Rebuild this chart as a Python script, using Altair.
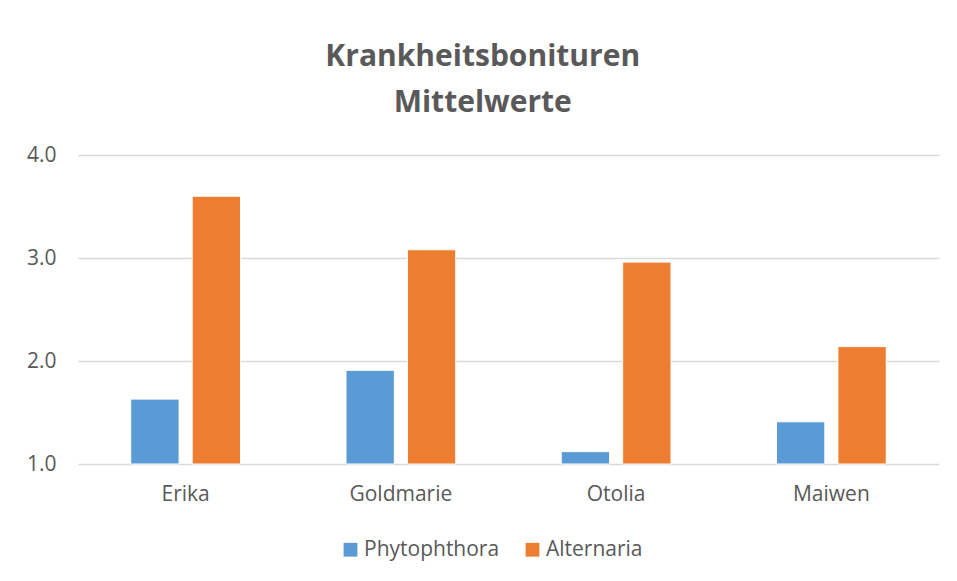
import altair as alt
import pandas as pd

categories = ["Erika", "Goldmarie", "Otolia", "Maiwen"]
series = ["Phytophthora", "Alternaria"]
phytophthora = [1.63, 1.91, 1.12, 1.41]
alternaria = [3.60, 3.08, 2.96, 2.14]
y_ticks = [1.0, 2.0, 3.0, 4.0]

rows = []
for i, c in enumerate(categories):
    rows.append({"Sorte": c, "Krankheit": series[0], "Wert": phytophthora[i], "Basis": 1.0})
    rows.append({"Sorte": c, "Krankheit": series[1], "Wert": alternaria[i], "Basis": 1.0})
df = pd.DataFrame(rows)

FONT = "Open Sans"
TXT = "#595959"

chart = alt.Chart(df).mark_bar(stroke="white", strokeWidth=1).encode(
    x=alt.X("Sorte:N", sort=categories, title=None,
            scale=alt.Scale(paddingInner=0.49, paddingOuter=0.245),
            axis=alt.Axis(labelAngle=0, ticks=False, domain=False, labelPadding=19,
                          labelFontSize=21, labelColor=TXT, labelFont=FONT)),
    xOffset=alt.XOffset("Krankheit:N", sort=series,
                        scale=alt.Scale(paddingInner=0.213)),
    y=alt.Y("Wert:Q", title=None,
            scale=alt.Scale(domain=[1, 4], zero=False, nice=False),
            axis=alt.Axis(values=y_ticks, format=".1f", ticks=False, domain=False,
                          labelPadding=22, labelFontSize=21, labelColor=TXT, labelFont=FONT,
                          gridColor="#d9d9d9", gridWidth=1.5)),
    y2="Basis:Q",
    color=alt.Color("Krankheit:N", sort=series,
                    scale=alt.Scale(domain=series, range=["#5B9BD5", "#ED7D31"]),
                    legend=alt.Legend(orient="none", legendX=262, legendY=384,
                                      direction="horizontal", title=None,
                                      symbolType="square", symbolSize=190, symbolStrokeWidth=0,
                                      labelFontSize=21, labelColor=TXT, labelFont=FONT,
                                      labelOffset=3, columnPadding=22, symbolOffset=0)),
).properties(
    width=861,
    height=309,
    background="white",
    title=alt.TitleParams(["Krankheitsbonituren", "Mittelwerte"], fontSize=30,
                          font=FONT, fontWeight="bold", color=TXT, lineHeight=46,
                          anchor="middle", frame="bounds", offset=26),
    padding={"left": 18, "top": 34, "right": 5, "bottom": 5},
).configure_view(stroke=None)

chart.save("out.html", embed_options={"renderer": "svg", "actions": False})
